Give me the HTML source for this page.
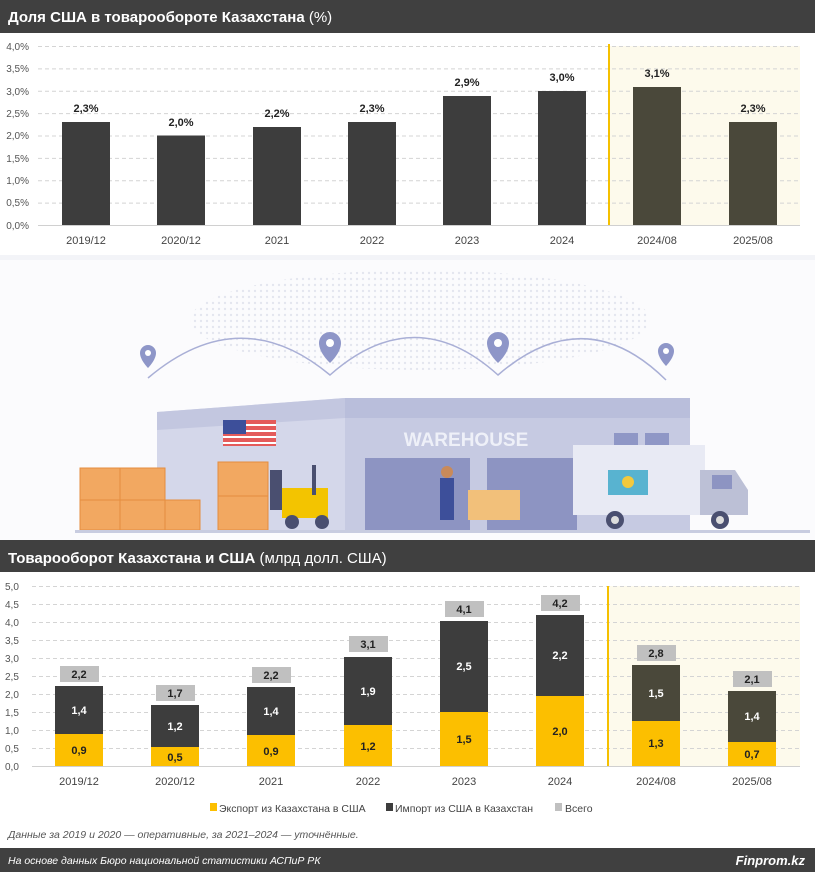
<!DOCTYPE html>
<html><head><meta charset="utf-8"><style>
*{margin:0;padding:0}
body{width:815px;height:872px;overflow:hidden;background:#fff;font-family:"Liberation Sans","DejaVu Sans",sans-serif}
svg{display:block}
</style></head><body>
<svg width="815" height="872" viewBox="0 0 815 872" xmlns="http://www.w3.org/2000/svg" font-family="Liberation Sans, DejaVu Sans, sans-serif">
<defs>
<pattern id="dots" width="6" height="6" patternUnits="userSpaceOnUse"><circle cx="3" cy="3" r="1.2" fill="#e4e6ef"/></pattern>
</defs>
<!-- header 1 -->
<rect x="0" y="0" width="815" height="33" fill="#404040"/>
<text x="8" y="22" fill="#fff" font-size="15" font-weight="bold">Доля США в товарообороте Казахстана <tspan font-weight="normal">(%)</tspan></text>
<rect x="0" y="255" width="815" height="5" fill="#f3f4f8"/>
<!-- top chart -->
<rect x="609" y="46" width="191" height="179" fill="#fdfaec"/>
<g stroke="#d4d4d4" stroke-dasharray="4,3" stroke-width="1">
<line x1="38" x2="800" y1="46.5" y2="46.5"/><line x1="38" x2="800" y1="68.9" y2="68.9"/><line x1="38" x2="800" y1="91.3" y2="91.3"/><line x1="38" x2="800" y1="113.6" y2="113.6"/><line x1="38" x2="800" y1="136" y2="136"/><line x1="38" x2="800" y1="158.4" y2="158.4"/><line x1="38" x2="800" y1="180.8" y2="180.8"/><line x1="38" x2="800" y1="203.1" y2="203.1"/>
</g>
<line x1="38" x2="800" y1="225.5" y2="225.5" stroke="#d0d0d0"/>
<line x1="609" x2="609" y1="44" y2="225" stroke="#f5c000" stroke-width="2"/>
<g font-size="10" fill="#555" text-anchor="end">
<text x="29" y="50">4,0%</text><text x="29" y="72">3,5%</text><text x="29" y="95">3,0%</text><text x="29" y="117">2,5%</text><text x="29" y="139">2,0%</text><text x="29" y="162">1,5%</text><text x="29" y="184">1,0%</text><text x="29" y="206">0,5%</text><text x="29" y="229">0,0%</text>
</g>
<g fill="#3d3d3d">
<rect x="62" y="122" width="48" height="103"/><rect x="157" y="135.5" width="48" height="89.5"/><rect x="253" y="127" width="48" height="98"/><rect x="348" y="122" width="48" height="103"/><rect x="443" y="96" width="48" height="129"/><rect x="538" y="91" width="48" height="134"/>
<rect x="633" y="87" width="48" height="138" fill="#4a483a"/><rect x="729" y="122" width="48" height="103" fill="#4a483a"/>
</g>
<g font-size="11" font-weight="bold" fill="#222" text-anchor="middle">
<text x="86" y="112">2,3%</text><text x="181" y="126">2,0%</text><text x="277" y="117">2,2%</text><text x="372" y="112">2,3%</text><text x="467" y="86">2,9%</text><text x="562" y="81">3,0%</text><text x="657" y="77">3,1%</text><text x="753" y="112">2,3%</text>
</g>
<g font-size="11" fill="#444" text-anchor="middle">
<text x="86" y="244">2019/12</text><text x="181" y="244">2020/12</text><text x="277" y="244">2021</text><text x="372" y="244">2022</text><text x="467" y="244">2023</text><text x="562" y="244">2024</text><text x="657" y="244">2024/08</text><text x="753" y="244">2025/08</text>
</g>
<!-- illustration -->
<rect x="0" y="260" width="815" height="280" fill="#fbfbfd"/>
<ellipse cx="420" cy="320" rx="230" ry="50" fill="url(#dots)"/>
<path d="M148 378 Q240 300 330 375 Q415 300 498 375 Q585 300 666 380" fill="none" stroke="#a9afd6" stroke-width="1.5"/>
<g fill="#8e96c8">
<path d="M148 345 a8 8 0 0 1 8 8 c0 7 -8 15 -8 15 c0 0 -8 -8 -8 -15 a8 8 0 0 1 8 -8z"/>
<path d="M330 332 a11 11 0 0 1 11 11 c0 10 -11 20 -11 20 c0 0 -11 -10 -11 -20 a11 11 0 0 1 11 -11z"/>
<path d="M498 332 a11 11 0 0 1 11 11 c0 10 -11 20 -11 20 c0 0 -11 -10 -11 -20 a11 11 0 0 1 11 -11z"/>
<path d="M666 343 a8 8 0 0 1 8 8 c0 7 -8 15 -8 15 c0 0 -8 -8 -8 -15 a8 8 0 0 1 8 -8z"/>
</g>
<g fill="#fff"><circle cx="148" cy="353" r="3"/><circle cx="330" cy="343" r="4"/><circle cx="498" cy="343" r="4"/><circle cx="666" cy="351" r="3"/></g>
<polygon points="157,412 345,398 690,398 690,530 157,530" fill="#d4d7ea"/>
<polygon points="157,412 345,398 345,418 157,430" fill="#c3c7e0"/>
<rect x="345" y="418" width="345" height="112" fill="#c6cae2"/>
<rect x="345" y="398" width="345" height="20" fill="#b9bedb"/>
<text x="466" y="446" font-size="19" font-weight="bold" fill="#eef0f8" text-anchor="middle">WAREHOUSE</text>
<rect x="614" y="433" width="24" height="12" fill="#8f97c6"/><rect x="645" y="433" width="24" height="12" fill="#8f97c6"/>
<rect x="365" y="458" width="105" height="72" fill="#8d94c2"/>
<rect x="487" y="458" width="90" height="72" fill="#8d94c2"/>
<rect x="223" y="420" width="53" height="26" fill="#e45b5b"/>
<g fill="#fff"><rect x="223" y="424" width="53" height="2"/><rect x="223" y="430" width="53" height="2"/><rect x="223" y="436" width="53" height="2"/><rect x="223" y="442" width="53" height="2"/></g>
<rect x="223" y="420" width="23" height="14" fill="#3d4f9a"/>
<rect x="573" y="445" width="132" height="70" fill="#e8eaf4"/>
<rect x="608" y="470" width="40" height="25" fill="#58b3d0"/><circle cx="628" cy="482" r="6" fill="#f3c93e"/>
<polygon points="700,470 735,470 748,490 748,515 700,515" fill="#bcc0d6"/>
<rect x="712" y="475" width="20" height="14" fill="#8d94c2"/>
<g fill="#4a4f70"><circle cx="615" cy="520" r="9"/><circle cx="720" cy="520" r="9"/></g>
<g fill="#ddd"><circle cx="615" cy="520" r="4"/><circle cx="720" cy="520" r="4"/></g>
<g fill="#f2a861" stroke="#e48d3e"><rect x="80" y="468" width="40" height="32"/><rect x="120" y="468" width="45" height="32"/><rect x="80" y="500" width="40" height="30"/><rect x="120" y="500" width="45" height="30"/><rect x="165" y="500" width="35" height="30"/><rect x="218" y="462" width="50" height="34"/><rect x="218" y="496" width="50" height="34"/></g>
<rect x="270" y="470" width="12" height="40" fill="#4a4f70"/><rect x="282" y="488" width="46" height="30" fill="#f3c400"/><rect x="312" y="465" width="4" height="30" fill="#4a4f70"/>
<g fill="#4a4f70"><circle cx="292" cy="522" r="7"/><circle cx="322" cy="522" r="7"/></g>
<rect x="440" y="478" width="14" height="42" fill="#3d4f9a"/><circle cx="447" cy="472" r="6" fill="#c98a5a"/>
<rect x="468" y="490" width="52" height="30" fill="#f2c07a"/>
<rect x="75" y="530" width="735" height="3" fill="#c8cce0"/>
<!-- header 2 -->
<rect x="0" y="540" width="815" height="32" fill="#404040"/>
<text x="8" y="563" fill="#fff" font-size="15" font-weight="bold">Товарооборот Казахстана и США <tspan font-weight="normal">(млрд долл. США)</tspan></text>
<!-- bottom chart -->
<rect x="608" y="586" width="192" height="180" fill="#fdfaec"/>
<g stroke="#d4d4d4" stroke-dasharray="4,3">
<line x1="32" x2="800" y1="586.5" y2="586.5"/><line x1="32" x2="800" y1="604.5" y2="604.5"/><line x1="32" x2="800" y1="622.5" y2="622.5"/><line x1="32" x2="800" y1="640.5" y2="640.5"/><line x1="32" x2="800" y1="658.5" y2="658.5"/><line x1="32" x2="800" y1="676.5" y2="676.5"/><line x1="32" x2="800" y1="694.5" y2="694.5"/><line x1="32" x2="800" y1="712.5" y2="712.5"/><line x1="32" x2="800" y1="730.5" y2="730.5"/><line x1="32" x2="800" y1="748.5" y2="748.5"/>
</g>
<line x1="32" x2="800" y1="766.5" y2="766.5" stroke="#d0d0d0"/>
<line x1="608" x2="608" y1="586" y2="766" stroke="#f5c000" stroke-width="2"/>
<g font-size="10" fill="#555">
<text x="5" y="590">5,0</text><text x="5" y="608">4,5</text><text x="5" y="626">4,0</text><text x="5" y="644">3,5</text><text x="5" y="662">3,0</text><text x="5" y="680">2,5</text><text x="5" y="698">2,0</text><text x="5" y="716">1,5</text><text x="5" y="734">1,0</text><text x="5" y="752">0,5</text><text x="5" y="770">0,0</text>
</g>
<!-- bars: yellow bottom, dark top -->
<g fill="#3d3d3d">
<rect x="55" y="686" width="48" height="80"/><rect x="151" y="705" width="48" height="61"/><rect x="247" y="687" width="48" height="79"/><rect x="344" y="657" width="48" height="109"/><rect x="440" y="621" width="48" height="145"/><rect x="536" y="615" width="48" height="151"/>
<rect x="632" y="665" width="48" height="101" fill="#4a483a"/><rect x="728" y="691" width="48" height="75" fill="#4a483a"/>
</g>
<g fill="#fcbf00">
<rect x="55" y="734" width="48" height="32"/><rect x="151" y="747" width="48" height="19"/><rect x="247" y="735" width="48" height="31"/><rect x="344" y="725" width="48" height="41"/><rect x="440" y="712" width="48" height="54"/><rect x="536" y="696" width="48" height="70"/><rect x="632" y="721" width="48" height="45"/><rect x="728" y="742" width="48" height="24"/>
</g>
<g fill="#c0c0c0">
<rect x="60" y="666" width="39" height="16"/><rect x="156" y="685" width="39" height="16"/><rect x="252" y="667" width="39" height="16"/><rect x="349" y="636" width="39" height="16"/><rect x="445" y="601" width="39" height="16"/><rect x="541" y="595" width="39" height="16"/><rect x="637" y="645" width="39" height="16"/><rect x="733" y="671" width="39" height="16"/>
</g>
<g font-size="11" font-weight="bold" text-anchor="middle" fill="#222">
<text x="79" y="678">2,2</text><text x="175" y="697">1,7</text><text x="271" y="679">2,2</text><text x="368" y="648">3,1</text><text x="464" y="613">4,1</text><text x="560" y="607">4,2</text><text x="656" y="657">2,8</text><text x="752" y="683">2,1</text>
<text x="79" y="754">0,9</text><text x="175" y="761">0,5</text><text x="271" y="755">0,9</text><text x="368" y="750">1,2</text><text x="464" y="743">1,5</text><text x="560" y="735">2,0</text><text x="656" y="747">1,3</text><text x="752" y="758">0,7</text>
</g>
<g font-size="11" font-weight="bold" text-anchor="middle" fill="#fff">
<text x="79" y="714">1,4</text><text x="175" y="730">1,2</text><text x="271" y="715">1,4</text><text x="368" y="695">1,9</text><text x="464" y="670">2,5</text><text x="560" y="659">2,2</text><text x="656" y="697">1,5</text><text x="752" y="720">1,4</text>
</g>
<g font-size="11" fill="#444" text-anchor="middle">
<text x="79" y="785">2019/12</text><text x="175" y="785">2020/12</text><text x="271" y="785">2021</text><text x="368" y="785">2022</text><text x="464" y="785">2023</text><text x="560" y="785">2024</text><text x="656" y="785">2024/08</text><text x="752" y="785">2025/08</text>
</g>
<g font-size="10.5" fill="#444">
<rect x="210" y="803" width="7" height="8" fill="#fcbf00"/><text x="219" y="812">Экспорт из Казахстана в США</text>
<rect x="386" y="803" width="7" height="8" fill="#3d3d3d"/><text x="395" y="812">Импорт из США в Казахстан</text>
<rect x="555" y="803" width="7" height="8" fill="#c0c0c0"/><text x="565" y="812">Всего</text>
</g>
<text x="8" y="838" font-size="10.5" font-style="italic" fill="#555">Данные за 2019 и 2020 — оперативные, за 2021–2024 — уточнённые.</text>
<rect x="0" y="848" width="815" height="24" fill="#404040"/>
<text x="8" y="864" font-size="10.5" font-style="italic" fill="#fff">На основе данных Бюро национальной статистики АСПиР РК</text>
<text x="805" y="865" font-size="13" font-style="italic" font-weight="bold" fill="#fff" text-anchor="end">Finprom.kz</text>
</svg>
</body></html>
